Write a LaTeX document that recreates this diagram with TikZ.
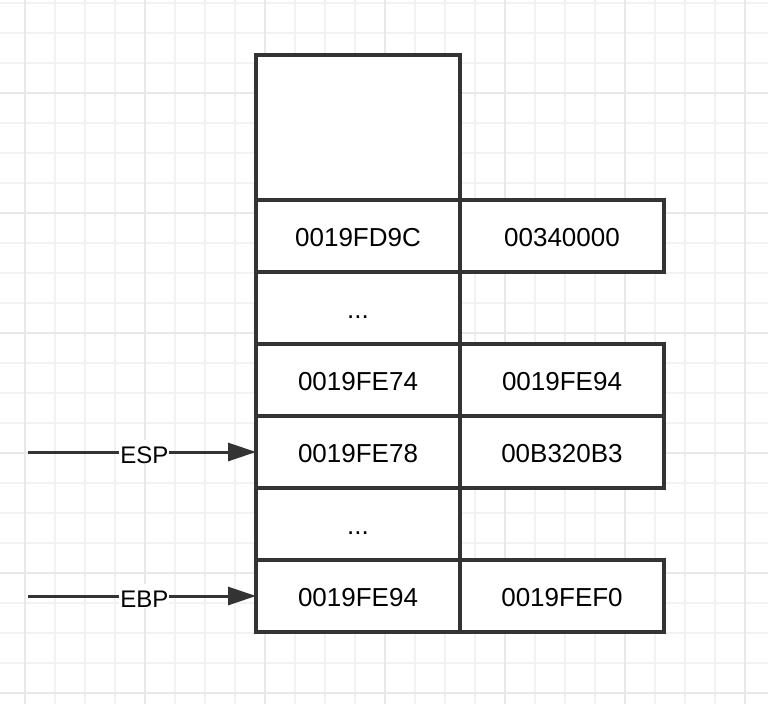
\documentclass[tikz,border=0pt]{standalone}
\usepackage{fontspec}
\setmainfont{Liberation Sans}
\usetikzlibrary{arrows.meta}
\definecolor{ink}{HTML}{333333}
\definecolor{gridlight}{HTML}{F2F2F2}
\definecolor{griddark}{HTML}{E8E8E8}
\begin{document}
\begin{tikzpicture}[x=1pt,y=-1pt,
  cell/.style={draw=ink, line width=3.5pt, fill=white, minimum width=204pt, minimum height=72pt, inner sep=0pt, outer sep=0pt, text height=21.4pt, text depth=0pt, font=\fontsize{26}{30}\selectfont, text=black},
  ptr/.style={draw=ink, line width=3pt, -{Triangle[length=28pt,width=18pt]}},
  lbl/.style={fill=white, inner sep=1pt, text height=22pt, text depth=0pt, font=\fontsize{24}{28}\selectfont, text=black}]
\useasboundingbox (0,0) rectangle (768,704);
\fill[white] (0,0) rectangle (768,704);
% grid
\foreach \x in {25,55,...,745} {\draw[gridlight, line width=1.2pt] (\x,0) -- (\x,704);}
\foreach \y in {3,33,...,693} {\draw[gridlight, line width=1.2pt] (0,\y) -- (768,\y);}
\foreach \x in {25,145,...,745} {\draw[griddark, line width=1.2pt] (\x,0) -- (\x,704);}
\foreach \y in {93,213,...,693} {\draw[griddark, line width=1.2pt] (0,\y) -- (768,\y);}
% cells
\node[cell, minimum height=145pt] (top) at (358,127.5) {};
\node[cell] (a1) at (358,236) {0019FD9C};
\node[cell] (b1) at (562,236) {00340000};
\node[cell] (a2) at (358,308) {...};
\node[cell] (a3) at (358,380) {0019FE74};
\node[cell] (b3) at (562,380) {0019FE94};
\node[cell] (a4) at (358,452) {0019FE78};
\node[cell] (b4) at (562,452) {00B320B3};
\node[cell] (a5) at (358,524) {...};
\node[cell] (a6) at (358,596) {0019FE94};
\node[cell] (b6) at (562,596) {0019FEF0};
% pointers
\coordinate (espstart) at (28,452);
\coordinate (ebpstart) at (28,596);
\draw[ptr] (espstart) -- (a4.west) node[lbl, pos=0.51] (esp) {ESP};
\draw[ptr] (ebpstart) -- (a6.west) node[lbl, pos=0.51] (ebp) {EBP};
\end{tikzpicture}
\end{document}
